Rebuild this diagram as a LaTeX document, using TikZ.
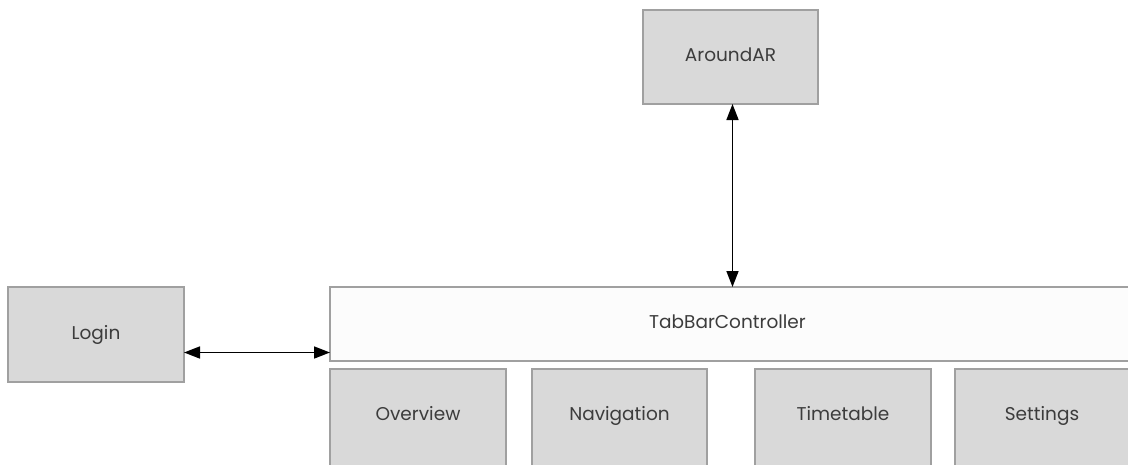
\documentclass[tikz,border=0pt]{standalone}
\usepackage{fontspec}
\setmainfont{Poppins}
\usetikzlibrary{arrows.meta}
\definecolor{boxfill}{HTML}{D9D9D9}
\definecolor{boxline}{HTML}{A0A0A0}
\definecolor{barfill}{HTML}{FCFCFC}
\definecolor{txt}{HTML}{3C3C3C}
\tikzset{
  caption/.style={font=\fontsize{18.5}{22}\selectfont, text=txt,
    text height=13pt, text depth=4pt, inner sep=0pt},
  screen/.style={draw=boxline, line width=1.6pt, fill=boxfill, rectangle,
    anchor=north west, outer sep=0pt, inner sep=0pt, caption},
  bar/.style={screen, fill=barfill},
  link/.style={line width=1.6pt, black, {Triangle[length=16pt,width=12pt]}-{Triangle[length=16pt,width=12pt]}}
}
\begin{document}
\begin{tikzpicture}[x=1pt, y=-1pt]
\clip (0,0) rectangle (1128,464);
\fill[white] (0,0) rectangle (1128,464);
% view controllers
\node[screen, minimum width=175pt, minimum height=94pt] (aroundar) at (643,10) {AroundAR};
\node[screen, minimum width=176pt, minimum height=95pt] (login) at (8,287) {Login};
\node[bar, minimum width=806pt, minimum height=74pt] (tabbar) at (330,287) {};
\node[caption] (tabbartxt) at ([xshift=-3pt]tabbar.north -| aroundar.south) [yshift=-37pt] {TabBarController};
% tabs below the bar (their lower edges run off the page)
\node[screen, minimum width=176pt, minimum height=105pt] (overview) at (330,369) {};
\node[screen, minimum width=175pt, minimum height=105pt] (navigation) at (532,369) {};
\node[screen, minimum width=176pt, minimum height=105pt] (timetable) at (755,369) {};
\node[screen, minimum width=180pt, minimum height=105pt] (settings) at (955,369) {};
\node[caption] (overviewtxt) at ([yshift=-47pt]overview.north) {Overview};
\node[caption] (navigationtxt) at ([yshift=-47pt]navigation.north) {Navigation};
\node[caption] (timetabletxt) at ([yshift=-47pt]timetable.north) {Timetable};
\node[caption] (settingstxt) at ([xshift=-3pt,yshift=-47pt]settings.north) {Settings};
% connectors
\draw[link] ([xshift=2pt]aroundar.south) -- ([xshift=2pt]aroundar.south |- tabbar.north);
\draw[link] ([yshift=-18pt]login.east) -- ([yshift=-18pt]login.east -| tabbar.west);
\end{tikzpicture}
\end{document}
